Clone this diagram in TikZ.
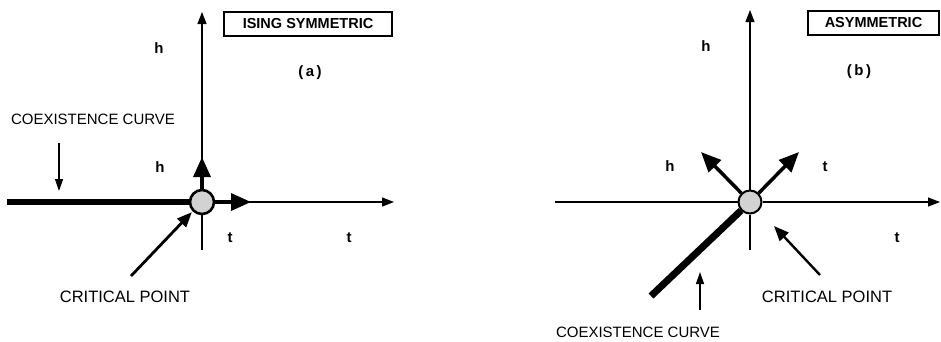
\documentclass[tikz,border=0pt]{standalone}
\usepackage{fontspec}
\setmainfont{Liberation Sans}
\usetikzlibrary{arrows.meta,positioning}

\begin{document}
\begin{tikzpicture}[x=1pt,y=-1pt,
  axis/.style={line width=1.3pt,-{Triangle[length=12pt,width=9pt]}},
  plainaxis/.style={line width=1.3pt},
  coex/.style={line width=6pt},
  flow/.style={line width=3.5pt,-{Triangle[length=20pt,width=17pt]}},
  pointer/.style={line width=1.3pt,-{Triangle[length=12pt,width=8pt]}},
  cpointer/.style={line width=2.8pt,-{Triangle[length=15pt,width=12pt]}},
  cpoint/.style={draw,circle,line width=2.6pt,fill=gray!35,minimum size=24pt,inner sep=0pt},
  tagbox/.style={draw,line width=1.3pt,inner sep=0pt,font=\fontsize{14.5}{16}\selectfont\bfseries},
  var/.style={font=\fontsize{15}{17}\selectfont\bfseries},
  caption/.style={font=\fontsize{15}{17}\selectfont}]
  \useasboundingbox (0,0) rectangle (941,341);

  % (a) ising symmetric
  \node[cpoint] (cpa) at (202,202) {};
  \coordinate (aN) at (202,12);
  \coordinate (aS) at (202,250);
  \coordinate (aE) at (394,202);
  \coordinate (aW) at (7,202);
  \coordinate (ha) at (202,157);
  \coordinate (ta) at (251,202);
  \draw[plainaxis] (cpa) -- (aS);
  \draw[axis] (cpa) -- (aN);
  \draw[axis] (cpa) -- (aE);
  \draw[coex] (aW) -- (cpa);
  \draw[flow] (cpa) -- (ha);
  \draw[flow] (cpa) -- (ta);
  \node[tagbox,minimum width=168pt,minimum height=24pt] (taga) at (308,24) {ISING SYMMETRIC};
  \node[var] (hfara) at (159,48) {h};
  \node[var] (hneara) at (160,167) {h};
  \node[var] (tneara) at (230,238) {t};
  \node[var] (tfara) at (349,238) {t};
  \node[var] (laba) at (310,73) {(\,a\,)};
  \node[caption] (coexa) at (93,119) {COEXISTENCE CURVE};
  \coordinate (coexaTail) at (59,143);
  \coordinate (coexaTip) at (59,191);
  \draw[pointer] (coexaTail) -- (coexaTip);
  \node[caption,font=\fontsize{16.5}{18}\selectfont] (crita) at (125,297) {CRITICAL POINT};
  \coordinate (critaTail) at (131,276);
  \draw[cpointer,shorten >=1pt] (critaTail) -- (cpa.225);

  % (b) asymmetric
  \node[cpoint,line width=2pt,minimum size=23pt] (cpb) at (750,202) {};
  \coordinate (bN) at (750,10);
  \coordinate (bS) at (750,250);
  \coordinate (bE) at (940,202);
  \coordinate (bW) at (555,202);
  \coordinate (bC) at (651,296);
  \coordinate (hb) at (701,152);
  \coordinate (tb) at (799,152);
  \draw[plainaxis] (bW) -- (cpb);
  \draw[plainaxis] (cpb) -- (bS);
  \draw[axis] (cpb) -- (bN);
  \draw[axis] (cpb) -- (bE);
  \draw[coex,line width=7pt] (bC) -- (cpb);
  \draw[flow] (cpb) -- (hb);
  \draw[flow] (cpb) -- (tb);
  \node[tagbox,minimum width=131pt,minimum height=24pt] (tagb) at (873.5,23) {ASYMMETRIC};
  \node[var] (hfarb) at (706,46) {h};
  \node[var] (hnearb) at (670,166) {h};
  \node[var] (tnearb) at (825,167) {t};
  \node[var] (tfarb) at (897,238) {t};
  \node[var] (labb) at (859,72) {(\,b\,)};
  \node[caption,font=\fontsize{16.5}{18}\selectfont] (critb) at (827,297) {CRITICAL POINT};
  \coordinate (critbTail) at (820,275);
  \coordinate (critbTip) at (774,226);
  \draw[cpointer,line width=2.4pt] (critbTail) -- (critbTip);
  \node[caption] (coexb) at (638,332) {COEXISTENCE CURVE};
  \coordinate (coexbTail) at (700,310);
  \coordinate (coexbTip) at (700,272);
  \draw[pointer] (coexbTail) -- (coexbTip);
\end{tikzpicture}
\end{document}
